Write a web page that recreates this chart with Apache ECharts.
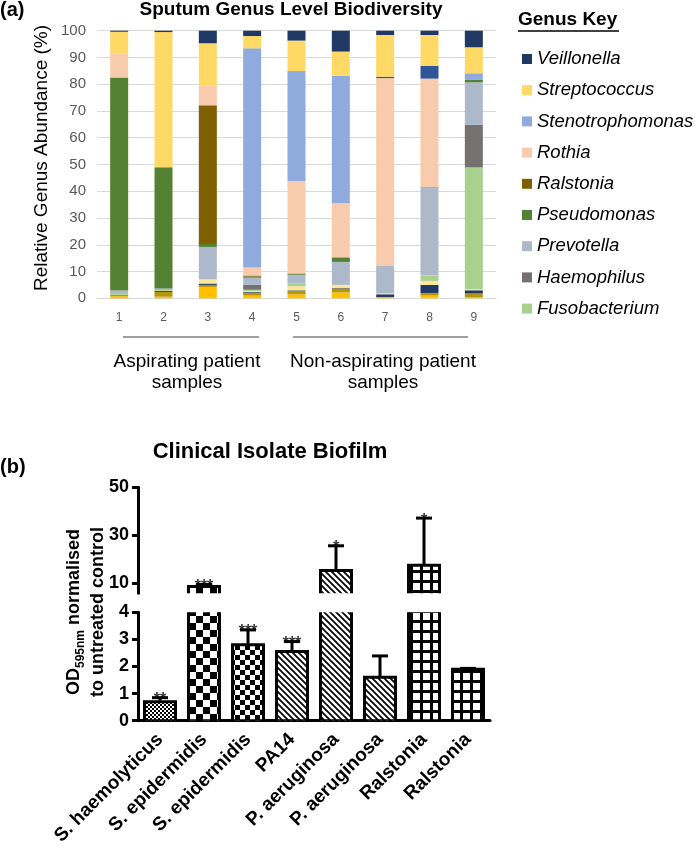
<!DOCTYPE html>
<html><head><meta charset="utf-8">
<script src="https://cdn.jsdelivr.net/npm/echarts@6/dist/echarts.min.js"></script>
<style>html,body{margin:0;padding:0;background:#fff}#c{width:697px;height:849px}</style>
</head><body><div id="c"></div>
<script>
// ---------- (a) Sputum genus level biodiversity (stack bottom -> top) ----------
const samples = ['1', '2', '3', '4', '5', '6', '7', '8', '9'];
const otherGold      = [0.8, 0.6, 4.2, 1.0, 1.5, 2.2, 0.3, 1.0, 0.3];
const otherOlive     = [0.5, 1.8, 0.8, 1.0, 1.3, 1.5, 0.2, 1.0, 1.5];
const otherNavy      = [0.0, 0.4, 0.5, 0.3, 0.2, 0.2, 1.0, 3.0, 1.2];
const otherPale      = [0.0, 0.0, 1.6, 0.4, 1.5, 1.1, 0.3, 1.5, 0.4];
const fusobacterium  = [0.3, 0.3, 0.0, 0.5, 1.0, 0.0, 0.0, 2.0, 45.5];
const haemophilus    = [0.0, 0.0, 0.0, 1.8, 0.0, 0.0, 0.0, 0.0, 16.0];
const prevotella     = [1.3, 0.6, 12.1, 2.7, 3.3, 8.6, 10.3, 33.0, 15.8];
const pseudomonas    = [79.6, 45.3, 1.1, 0.5, 0.5, 1.7, 0.0, 0.0, 0.9];
const ralstonia      = [0.0, 0.0, 51.8, 0.3, 0.0, 0.0, 0.0, 0.2, 0.0];
const rothia         = [9.0, 0.0, 7.4, 3.0, 34.5, 20.2, 70.2, 40.4, 0.0];
const otherBlue      = [0.0, 0.0, 0.0, 0.0, 0.0, 0.0, 0.5, 4.7, 0.0];
const stenotrophomonas = [0.0, 0.0, 0.0, 81.9, 41.1, 47.6, 0.0, 0.0, 2.5];
const streptococcus  = [8.1, 50.5, 15.8, 4.6, 11.4, 9.1, 15.6, 11.6, 9.7];
const veillonella    = [0.4, 0.5, 4.7, 2.0, 3.7, 7.8, 1.6, 1.6, 6.2];
const genusKey = ['Veillonella', 'Streptococcus', 'Stenotrophomonas', 'Rothia', 'Ralstonia',
                  'Pseudomonas', 'Prevotella', 'Haemophilus', 'Fusobacterium'];
const abundanceTicks = { min: 0, max: 100, step: 10 };

// ---------- (b) Clinical isolate biofilm ----------
const isolates = ['S. haemolyticus', 'S. epidermidis', 'S. epidermidis', 'PA14',
                  'P. aeruginosa', 'P. aeruginosa', 'Ralstonia', 'Ralstonia'];
const biofilm       = [0.7, 8.5, 2.8, 2.55, 15.2, 1.6, 17.3, 1.9];
const biofilmErrTop = [0.85, 9.3, 3.35, 2.92, 25.5, 2.39, 37.1, 1.93];
const significance  = ['**', '***', '***', '***', '*', '', '*', ''];
const lowerRange = [0, 4];
const upperRange = [5.6, 50];
const upperTicks = [10, 30, 50];

// ---------- styles ----------
const FONT = 'Liberation Sans, Arial, sans-serif';
const colors = {
  otherGold: '#FFC000', otherOlive: '#B8960C', otherNavy: '#203864', otherPale: '#FFE699',
  Fusobacterium: '#A9D18E', Haemophilus: '#767171', Prevotella: '#ADB9CA', Pseudomonas: '#548235',
  Ralstonia: '#7F6000', Rothia: '#F8CBAD', otherBlue: '#2F5597', Stenotrophomonas: '#8FAADC',
  Streptococcus: '#FFD966', Veillonella: '#203864'
};
function mk(w, h, draw) {
  const c = document.createElement('canvas'); c.width = w; c.height = h;
  const g = c.getContext('2d'); g.fillStyle = '#fff'; g.fillRect(0, 0, w, h);
  g.fillStyle = '#000'; g.strokeStyle = '#000'; draw(g);
  return { image: c, repeat: 'repeat' };
}
const checker = n => mk(2 * n, 2 * n, g => { g.fillRect(0, 0, n, n); g.fillRect(n, n, n, n); });
const diag = mk(6, 6, g => { g.lineWidth = 1.7; g.beginPath(); g.moveTo(-1, -1); g.lineTo(7, 7);
  g.moveTo(-1, 5); g.lineTo(1, 7); g.moveTo(5, -1); g.lineTo(7, 1); g.stroke(); });
const gridPat = mk(10, 10, g => { g.fillRect(0, 0, 10, 3); g.fillRect(0, 0, 3, 10); });
const patterns = [checker(2), checker(7), checker(5), diag, diag, diag, gridPat, gridPat];

const stackOrder = [
  ['otherGold', otherGold], ['otherOlive', otherOlive], ['otherNavy', otherNavy], ['otherPale', otherPale],
  ['Fusobacterium', fusobacterium], ['Haemophilus', haemophilus], ['Prevotella', prevotella],
  ['Pseudomonas', pseudomonas], ['Ralstonia', ralstonia], ['Rothia', rothia], ['otherBlue', otherBlue],
  ['Stenotrophomonas', stenotrophomonas], ['Streptococcus', streptococcus], ['Veillonella', veillonella]
];
const stackSeries = stackOrder.map(([name, arr]) => ({
  name, type: 'bar', stack: 'g', xAxisIndex: 0, yAxisIndex: 0, barWidth: 18, data: arr,
  itemStyle: { color: colors[name] }, emphasis: { disabled: true }
}));

function barItem(params, api) {
  const i = api.value(0);
  const top = api.coord([i, api.value(1)]);
  const bot = api.coord([i, 0]);
  const w = api.size([1, 0])[0] * 0.705;
  const cs = params.coordSys;
  return {
    type: 'rect',
    shape: { x: top[0] - w / 2, y: top[1], width: w, height: bot[1] - top[1] },
    style: { fill: patterns[i], stroke: '#000', lineWidth: 3 },
    clipPath: { type: 'rect', shape: { x: cs.x - 5, y: cs.y, width: cs.width + 10, height: cs.height } }
  };
}
function errItem(params, api) {
  const i = api.value(0);
  const base = api.coord([i, api.value(1)]);
  const top = api.coord([i, api.value(2)]);
  return { type: 'group', children: [
    { type: 'line', shape: { x1: base[0], y1: base[1], x2: top[0], y2: top[1] }, style: { stroke: '#000', lineWidth: 3 } },
    { type: 'line', shape: { x1: top[0] - 8, y1: top[1], x2: top[0] + 8, y2: top[1] }, style: { stroke: '#000', lineWidth: 3 } }
  ] };
}
const barData = biofilm.map((v, i) => [i, v]);
const errAll = biofilm.map((v, i) => [i, v, biofilmErrTop[i]]);
const errUpper = errAll.filter(d => d[1] > upperRange[0]);
const errLower = errAll.filter(d => d[2] <= lowerRange[1]);
const starAll = biofilmErrTop.map((e, i) => [i, e]).filter(d => significance[d[0]]);
const starUpper = starAll.filter(d => d[1] > upperRange[0]);
const starLower = starAll.filter(d => d[1] <= lowerRange[1]);
const starSeries = (xi, data) => ({
  type: 'scatter', xAxisIndex: xi, yAxisIndex: xi, data, symbol: 'circle', symbolSize: 1, z: 6, clip: false,
  itemStyle: { color: 'rgba(0,0,0,0)' }, emphasis: { disabled: true }, silent: true,
  label: { show: true, position: 'inside', offset: [0, 2], formatter: p => significance[p.data[0]],
           fontSize: 16, fontWeight: 'bold', color: '#000', fontFamily: FONT }
});

const chart = echarts.init(document.getElementById('c'));
chart.setOption({
  animation: false,
  textStyle: { fontFamily: FONT },
  legend: {
    data: genusKey, orient: 'vertical', left: 517, top: 44, itemWidth: 10, itemHeight: 10, itemGap: 11.2,
    icon: 'rect', selectedMode: false, itemStyle: { borderWidth: 0 },
    textStyle: { fontSize: 18.5, fontStyle: 'italic', color: '#000', lineHeight: 20, fontFamily: FONT }
  },
  grid: [
    { left: 97, top: 30.7, width: 399, height: 267.6 },
    { left: 138, top: 487.3, width: 352, height: 106 },
    { left: 138, top: 612.3, width: 352, height: 108.4 }
  ],
  xAxis: [
    { type: 'category', gridIndex: 0, data: samples,
      axisLine: { lineStyle: { color: '#D9D9D9', width: 1 } }, axisTick: { show: false },
      axisLabel: { color: '#595959', fontSize: 12, margin: 13 } },
    { type: 'category', gridIndex: 1, data: isolates, show: false },
    { type: 'category', gridIndex: 2, data: isolates,
      axisLine: { lineStyle: { color: '#000', width: 3 } },
      axisTick: { alignWithLabel: true, length: 6, lineStyle: { color: '#000', width: 2.5 } },
      axisLabel: { rotate: 45, fontWeight: 'bold', fontSize: 19, color: '#000', margin: 16 } }
  ],
  yAxis: [
    { type: 'value', gridIndex: 0, min: abundanceTicks.min, max: abundanceTicks.max, interval: abundanceTicks.step,
      axisLine: { show: false }, axisTick: { show: false },
      axisLabel: { color: '#595959', fontSize: 15, margin: 11 },
      splitLine: { lineStyle: { color: '#D9D9D9', width: 1 } } },
    { type: 'value', gridIndex: 1, min: upperRange[0], max: upperRange[1],
      axisLine: { show: true, lineStyle: { color: '#000', width: 3 } },
      axisTick: { show: true, customValues: upperTicks, length: 6, lineStyle: { color: '#000', width: 3 } },
      axisLabel: { customValues: upperTicks, fontWeight: 'bold', fontSize: 18, color: '#000', margin: 9 },
      splitLine: { show: false } },
    { type: 'value', gridIndex: 2, min: lowerRange[0], max: lowerRange[1], interval: 1,
      axisLine: { show: true, lineStyle: { color: '#000', width: 3 } },
      axisTick: { show: true, length: 6, lineStyle: { color: '#000', width: 3 } },
      axisLabel: { fontWeight: 'bold', fontSize: 18, color: '#000', margin: 9 },
      splitLine: { show: false } }
  ],
  series: [
    ...stackSeries,
    { type: 'custom', xAxisIndex: 1, yAxisIndex: 1, renderItem: barItem, data: barData },
    { type: 'custom', xAxisIndex: 1, yAxisIndex: 1, renderItem: errItem, data: errUpper, clip: false, z: 5 },
    { type: 'custom', xAxisIndex: 2, yAxisIndex: 2, renderItem: barItem, data: barData },
    { type: 'custom', xAxisIndex: 2, yAxisIndex: 2, renderItem: errItem, data: errLower, clip: false, z: 5 },
    starSeries(1, starUpper),
    starSeries(2, starLower)
  ],
  graphic: [
    { type: 'text', x: 0, y: 10, style: { text: '(a)', fontSize: 20, fontWeight: 'bold', fontFamily: FONT, fill: '#000', verticalAlign: 'middle' } },
    { type: 'text', x: 291, y: 10, style: { text: 'Sputum Genus Level Biodiversity', fontSize: 19, fontWeight: 'bold', fontFamily: FONT, fill: '#000', align: 'center', verticalAlign: 'middle' } },
    { type: 'text', x: 42, y: 158, rotation: Math.PI / 2, style: { text: 'Relative Genus Abundance (%)', fontSize: 19, fontFamily: FONT, fill: '#000', align: 'center', verticalAlign: 'middle' } },
    { type: 'text', x: 518, y: 20, style: { text: 'Genus Key', fontSize: 19, fontWeight: 'bold', fontFamily: FONT, fill: '#000', verticalAlign: 'middle' } },
    { type: 'line', shape: { x1: 518, y1: 31, x2: 619, y2: 31 }, style: { stroke: '#000', lineWidth: 1.5 } },
    { type: 'line', shape: { x1: 123, y1: 337, x2: 259, y2: 337 }, style: { stroke: '#7F7F7F', lineWidth: 1.3 } },
    { type: 'line', shape: { x1: 293, y1: 337, x2: 468, y2: 337 }, style: { stroke: '#7F7F7F', lineWidth: 1.3 } },
    { type: 'text', x: 187, y: 372, style: { text: 'Aspirating patient\nsamples', fontSize: 19, lineHeight: 21, fontFamily: FONT, fill: '#000', align: 'center', verticalAlign: 'middle' } },
    { type: 'text', x: 383, y: 372, style: { text: 'Non-aspirating patient\nsamples', fontSize: 19, lineHeight: 21, fontFamily: FONT, fill: '#000', align: 'center', verticalAlign: 'middle' } },
    { type: 'text', x: 0, y: 467, style: { text: '(b)', fontSize: 20, fontWeight: 'bold', fontFamily: FONT, fill: '#000', verticalAlign: 'middle' } },
    { type: 'text', x: 270, y: 452, style: { text: 'Clinical Isolate Biofilm', fontSize: 22, fontWeight: 'bold', fontFamily: FONT, fill: '#000', align: 'center', verticalAlign: 'middle' } },
    { type: 'text', x: 83, y: 612, rotation: Math.PI / 2,
      style: { text: '{a|OD}{s|595nm}{a| normalised}\n{a|to untreated control}', fill: '#000', align: 'center', verticalAlign: 'middle',
        rich: { a: { fontSize: 18, fontWeight: 'bold', fontFamily: FONT, lineHeight: 24, verticalAlign: 'bottom' },
                s: { fontSize: 12, fontWeight: 'bold', fontFamily: FONT, lineHeight: 24, verticalAlign: 'bottom', padding: [0, 0, -4, 0] } } } }
  ]
});
</script></body></html>
